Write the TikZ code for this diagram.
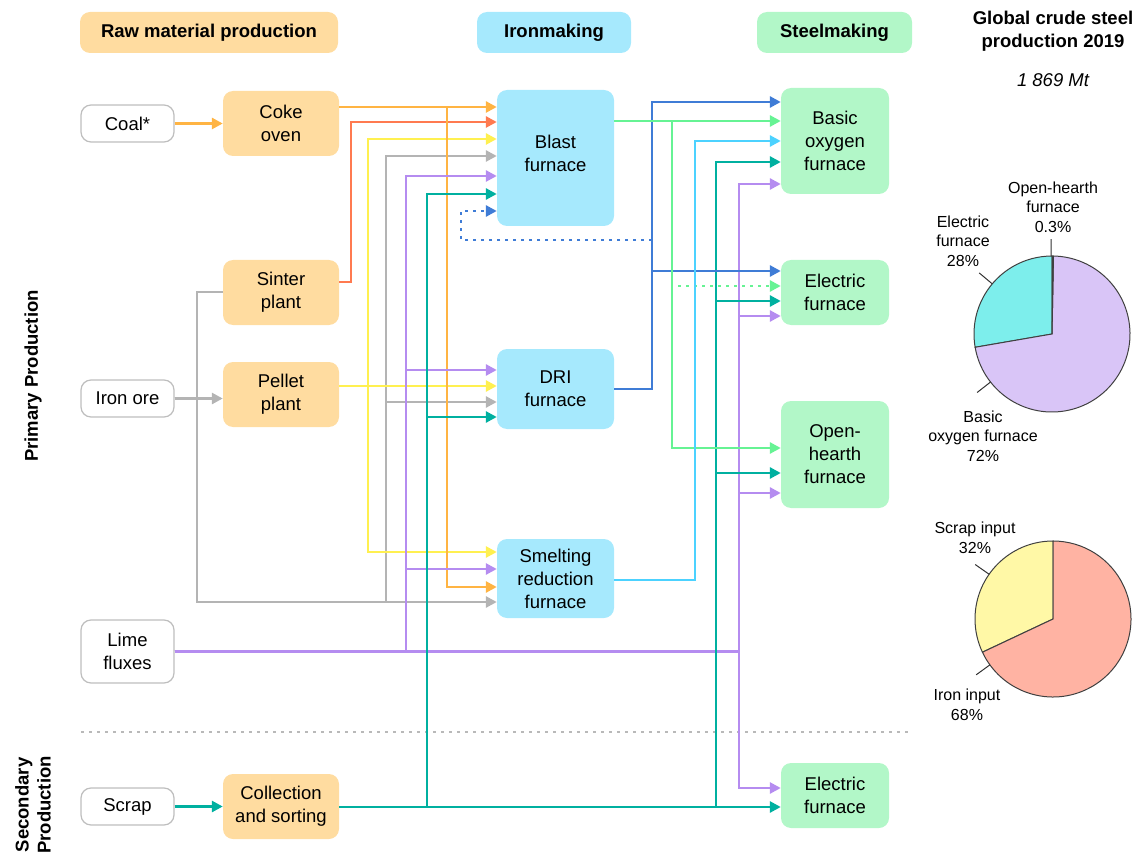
\documentclass[tikz,border=0pt]{standalone}
\usepackage{fontspec}
\setmainfont{Liberation Sans}
\usetikzlibrary{arrows.meta}
\definecolor{rawfill}{RGB}{255,220,160}
\definecolor{ironfill}{RGB}{166,233,253}
\definecolor{steelfill}{RGB}{178,247,200}
\definecolor{srcline}{RGB}{190,190,190}
\definecolor{cokeC}{RGB}{255,180,67}
\definecolor{sinterC}{RGB}{255,122,80}
\definecolor{pelletC}{RGB}{255,240,80}
\definecolor{oreC}{RGB}{180,180,180}
\definecolor{limeC}{RGB}{181,140,240}
\definecolor{scrapC}{RGB}{0,176,160}
\definecolor{driC}{RGB}{63,124,214}
\definecolor{bfC}{RGB}{102,243,148}
\definecolor{srC}{RGB}{76,210,255}
\definecolor{bofpie}{RGB}{217,197,247}
\definecolor{efpie}{RGB}{125,238,236}
\definecolor{ohpie}{RGB}{120,120,120}
\definecolor{scrappie}{RGB}{255,248,166}
\definecolor{ironpie}{RGB}{255,179,163}
\definecolor{sepline}{RGB}{185,185,185}

\begin{document}
\begin{tikzpicture}[x=1pt,y=-1pt]
	 \tikzstyle{box}=[rounded corners=10pt,align=center,inner sep=0pt,font=\fontsize{18.5}{23}\selectfont]
	 \tikzstyle{header}=[box,minimum height=41pt,font=\bfseries\fontsize{18.5}{23}\selectfont]
	 \tikzstyle{source box}=[box,draw=srcline,line width=1.2pt,fill=white,minimum width=93pt]
	 \tikzstyle{raw box}=[box,fill=rawfill,minimum width=116pt,minimum height=65pt]
	 \tikzstyle{iron box}=[box,fill=ironfill,minimum width=117pt]
	 \tikzstyle{steel box}=[box,fill=steelfill,minimum width=108pt]
	 \tikzstyle{line}=[draw,line width=2.8pt]
	 \tikzstyle{flow}=[line,-{Triangle[length=11pt,width=11pt]}]
	 \tikzstyle{dotted flow}=[flow,dash pattern=on 2.8pt off 5.2pt]
	 \tikzstyle{pie edge}=[draw=black!75,line width=1pt]
	 \tikzstyle{leader}=[draw=black!80,line width=1pt]
	 \tikzstyle{pie label}=[align=center,font=\fontsize{16}{19.5}\selectfont]
	 \useasboundingbox (0,0) rectangle (1141,853);
	 \node[header,fill=rawfill,minimum width=258pt] (hraw) at (209,32.5) {Raw material production};
	 \node[header,fill=ironfill,minimum width=154pt] (hiron) at (554,32.5) {Ironmaking};
	 \node[header,fill=steelfill,minimum width=155pt] (hsteel) at (834.5,32.5) {Steelmaking};
	 \node[align=center,font=\bfseries\fontsize{18.5}{23}\selectfont] (global) at (1053,31.5) {Global crude steel\\production 2019};
	 \node[font=\itshape\fontsize{18.5}{23}\selectfont] (total) at (1053,80) {1 869 Mt};
	 \node[rotate=90,font=\bfseries\fontsize{18.5}{23}\selectfont] (primary) at (33,376) {Primary Production};
	 \node[rotate=90,align=center,font=\bfseries\fontsize{18.5}{22}\selectfont] (secondary) at (33,805) {Secondary\\Production};
	 \node[source box,minimum height=37pt] (coal) at (127.5,123.5) {Coal*};
	 \node[source box,minimum height=37pt] (ore) at (127.5,398.5) {Iron ore};
	 \node[source box,minimum height=63pt] (lime) at (127.5,651.5) {Lime\\fluxes};
	 \node[source box,minimum height=37pt] (scrap) at (127.5,806.5) {Scrap};
	 \node[raw box] (coke) at (281,123.5) {Coke\\oven};
	 \node[raw box] (sinter) at (281,292.5) {Sinter\\plant};
	 \node[raw box] (pellet) at (281,394.5) {Pellet\\plant};
	 \node[raw box] (collect) at (281,806.5) {Collection\\and sorting};
	 \node[iron box,minimum height=136pt] (bf) at (555.5,158) {Blast\\furnace\\[-13pt]};
	 \node[iron box,minimum height=80pt] (dri) at (555.5,389) {DRI\\furnace};
	 \node[iron box,minimum height=79pt] (sr) at (555.5,578.5) {Smelting\\reduction\\furnace};
	 \node[steel box,minimum height=106pt] (bof) at (835,141) {Basic\\oxygen\\furnace};
	 \node[steel box,minimum height=65pt] (eft) at (835,292.5) {Electric\\furnace};
	 \node[steel box,minimum height=107pt] (oh) at (835,454.5) {Open-\\hearth\\furnace};
	 \node[steel box,minimum height=65pt] (efb) at (835,795.5) {Electric\\furnace};
	 \draw[line,sepline,dash pattern=on 2.6pt off 5.4pt] (81,732) -- (912,732);
	 \draw[flow,oreC] (ore.east) -- (pellet.west |- ore.east);
	 \draw[line,oreC] (ore.east) -| (197,292) -- (sinter.west |- 0,292);
	 \draw[flow,oreC] (ore.east) -| (197,602) -- (sr.west |- 0,602);
	 \draw[flow,oreC] (ore.east) -| (197,602) -| (386,156) -- (bf.west |- 0,156);
	 \draw[flow,oreC] (ore.east) -| (197,602) -| (386,402) -- (dri.west |- 0,402);
	 \draw[flow,pelletC] (pellet.east |- 0,386) -- (dri.west |- 0,386);
	 \draw[flow,pelletC] (pellet.east |- 0,386) -| (368,139) -- (bf.west |- 0,139);
	 \draw[flow,pelletC] (pellet.east |- 0,386) -| (368,552) -- (sr.west |- 0,552);
	 \draw[flow,sinterC] (sinter.east |- 0,282) -| (351,122) -- (bf.west |- 0,122);
	 \draw[flow,cokeC] (coal) -- (coke);
	 \draw[flow,cokeC] (coke.east |- 0,107) -- (bf.west |- 0,107);
	 \draw[flow,cokeC] (coke.east |- 0,107) -| (447,587) -- (sr.west |- 0,587);
	 \draw[flow,limeC] (lime.east) -| (406,176) -- (bf.west |- 0,176);
	 \draw[flow,limeC] (lime.east) -| (406,370) -- (dri.west |- 0,370);
	 \draw[flow,limeC] (lime.east) -| (406,569) -- (sr.west |- 0,569);
	 \draw[flow,limeC] (lime.east) -| (739,184) -- (bof.west |- 0,184);
	 \draw[flow,limeC] (lime.east) -| (739,316) -- (eft.west |- 0,316);
	 \draw[flow,limeC] (lime.east) -| (739,493) -- (oh.west |- 0,493);
	 \draw[flow,limeC] (lime.east) -| (739,788) -- (efb.west |- 0,788);
	 \draw[flow,scrapC] (scrap) -- (collect);
	 \draw[flow,scrapC] (collect.east |- 0,807) -- (efb.west |- 0,807);
	 \draw[flow,scrapC] (collect.east |- 0,807) -| (427,194) -- (bf.west |- 0,194);
	 \draw[flow,scrapC] (collect.east |- 0,807) -| (427,417) -- (dri.west |- 0,417);
	 \draw[flow,scrapC] (collect.east |- 0,807) -| (716,162) -- (bof.west |- 0,162);
	 \draw[flow,scrapC] (collect.east |- 0,807) -| (716,301) -- (eft.west |- 0,301);
	 \draw[flow,scrapC] (collect.east |- 0,807) -| (716,473) -- (oh.west |- 0,473);
	 \draw[flow,driC] (dri.east |- 0,389) -| (652,102) -- (bof.west |- 0,102);
	 \draw[flow,driC] (dri.east |- 0,389) -| (652,271) -- (eft.west |- 0,271);
	 \coordinate (recycle) at (652,240);
	 \draw[dotted flow,driC] (recycle) -| (461,211) -- (bf.west |- 0,211);
	 \draw[flow,bfC] (bf.east |- 0,121) -- (bof.west |- 0,121);
	 \draw[flow,bfC] (bf.east |- 0,121) -| (672,448) -- (oh.west |- 0,448);
	 \coordinate (bfscrap) at (678,286);
	 \draw[dotted flow,bfC] (bfscrap) -- (eft.west |- bfscrap);
	 \draw[flow,srC] (sr.east |- 0,580) -| (695,141) -- (bof.west |- 0,141);
	 \begin{scope}[shift={(1052,334)}]
		 \filldraw[pie edge,fill=efpie] (0,0) -- (90:78pt) arc[start angle=90,end angle=189.8,radius=78pt] -- cycle;
		 \filldraw[pie edge,fill=bofpie] (0,0) -- (189.8:78pt) arc[start angle=189.8,end angle=448.92,radius=78pt] -- cycle;
		 \filldraw[pie edge,fill=ohpie] (0,0) -- (88.92:78pt) arc[start angle=88.92,end angle=90,radius=78pt] -- cycle;
		 \draw[leader] (90.6:78pt) -- (90.6:95pt);
		 \draw[leader] (140:78pt) -- (140:95pt);
		 \draw[leader] (218:78pt) -- (218:95pt);
	 \end{scope}
	 \node[pie label] (lbloh) at (1053,207) {Open-hearth\\furnace\\0.3\%};
	 \node[pie label] (lblef) at (963,241) {Electric\\furnace\\28\%};
	 \node[pie label] (lblbof) at (983,436) {Basic\\oxygen furnace\\72\%};
	 \begin{scope}[shift={(1053,619)}]
		 \filldraw[pie edge,fill=scrappie] (0,0) -- (90:78pt) arc[start angle=90,end angle=205.2,radius=78pt] -- cycle;
		 \filldraw[pie edge,fill=ironpie] (0,0) -- (205.2:78pt) arc[start angle=205.2,end angle=450,radius=78pt] -- cycle;
		 \draw[leader] (145:78pt) -- (145:95pt);
		 \draw[leader] (216:78pt) -- (216:95pt);
	 \end{scope}
	 \node[pie label] (lblscrap) at (975,538) {Scrap input\\32\%};
	 \node[pie label] (lbliron) at (967,705) {Iron input\\68\%};
\end{tikzpicture}
\end{document}
